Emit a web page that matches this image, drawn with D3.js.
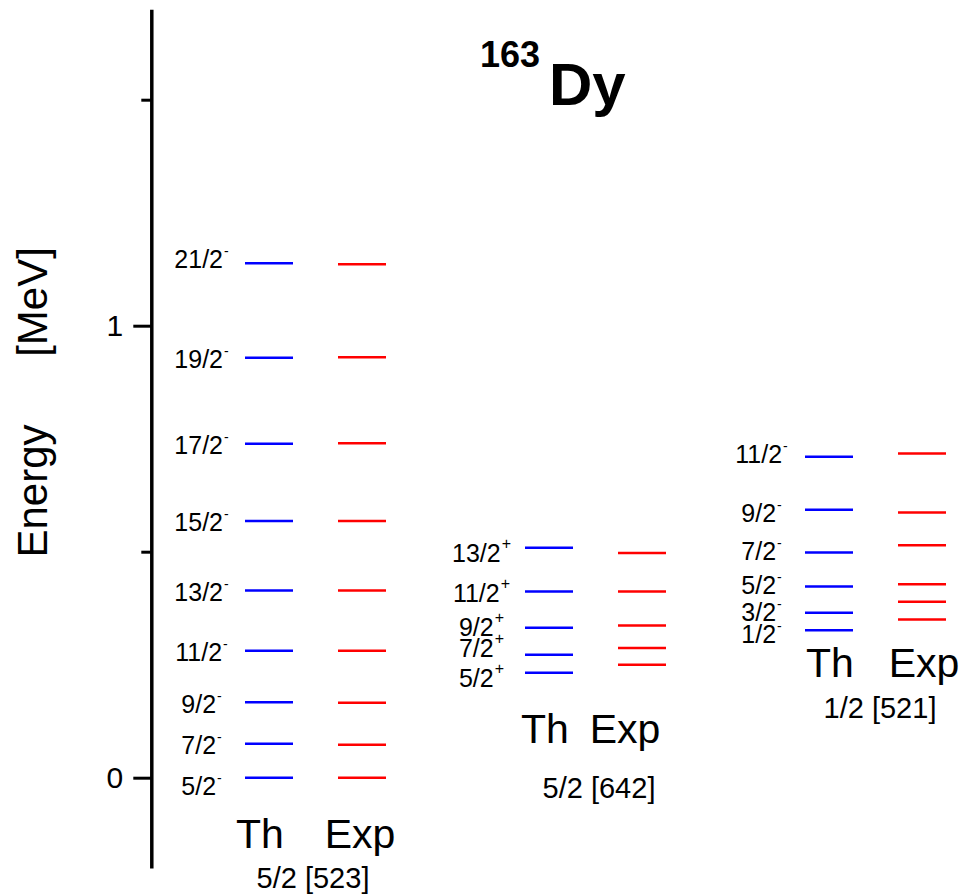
<!DOCTYPE html>
<html>
<head>
<meta charset="utf-8">
<script src="https://cdn.jsdelivr.net/npm/d3@7"></script>
<style>
  html, body { margin: 0; padding: 0; background: #fff; }
  svg { display: block; font-family: "Liberation Sans", Arial, sans-serif; }
</style>
</head>
<body>
<div id="chart"></div>
<script>
// Level energies in MeV.
const bandNames = ['5/2 [523]', '5/2 [642]', '1/2 [521]'];
const bandParity = ['-', '+', '-'];

const spins523 = ['5/2', '7/2', '9/2', '11/2', '13/2', '15/2', '17/2', '19/2', '21/2'];
const th523 = [0.000, 0.075, 0.167, 0.281, 0.414, 0.568, 0.739, 0.929, 1.138];
const exp523 = [0.000, 0.073, 0.166, 0.281, 0.414, 0.568, 0.740, 0.930, 1.136];

const spins642 = ['5/2', '7/2', '9/2', '11/2', '13/2'];
const th642 = [0.232, 0.272, 0.332, 0.412, 0.509];
const exp642 = [0.250, 0.287, 0.337, 0.412, 0.497];

const spins521 = ['1/2', '3/2', '5/2', '7/2', '9/2', '11/2'];
const th521 = [0.326, 0.365, 0.423, 0.498, 0.593, 0.710];
const exp521 = [0.350, 0.389, 0.428, 0.514, 0.587, 0.717];

const yTicksMajor = [0, 1];
const yTicksMinor = [0.5, 1.5];

const bands = [
  { spins: spins523, th: th523, exp: exp523 },
  { spins: spins642, th: th642, exp: exp642 },
  { spins: spins521, th: th521, exp: exp521 },
];

// layout only: label placements per band (pixels)
const bandLayout = [
  { th: [260, 848], exp: [360, 848], cap: [313, 888], nudge: { '5/2': 7, '21/2': -6 } },
  { th: [545, 743], exp: [625, 743], cap: [599, 798], nudge: { '5/2': 3.5, '7/2': -8, '9/2': -2, '13/2': 3.5 } },
  { th: [830, 677], exp: [924, 677], cap: [880, 718], nudge: { '1/2': 2, '3/2': -2.5, '5/2': -3.5, '7/2': -3.5, '9/2': 2, '11/2': -4 } },
];

const width = 964, height = 895;
const axisX = 151.3;
const lineW = 48;
const expOffset = 93;

const svg = d3.select('#chart').append('svg')
  .attr('width', width)
  .attr('height', height)
  .attr('viewBox', [0, 0, width, height]);

svg.append('rect').attr('width', width).attr('height', height).attr('fill', '#fff');

const y = d3.scaleLinear().domain([-0.2, 1.7]).range([868.1, 9.3]);
const xBand = d3.scaleLinear().domain([0, 1]).range([245, 525]);

// axis: long ticks with numbers at 0 and 1, short ones in between
const major = svg.append('g')
  .attr('transform', `translate(${axisX},0)`)
  .call(d3.axisLeft(y).tickValues(yTicksMajor).tickSize(18).tickSizeOuter(0).tickPadding(10).tickFormat(d3.format('d')));
major.select('.domain').attr('stroke-width', 3.5);
major.selectAll('.tick line').attr('stroke-width', 3);
major.selectAll('.tick text')
  .attr('font-size', 30)
  .attr('font-family', '"Liberation Sans", Arial, sans-serif')
  .attr('fill', '#000');

const minor = svg.append('g')
  .attr('transform', `translate(${axisX},0)`)
  .call(d3.axisLeft(y).tickValues(yTicksMinor).tickSize(10).tickSizeOuter(0).tickFormat(''));
minor.select('.domain').remove();
minor.selectAll('.tick line').attr('stroke-width', 3);

// axis title
svg.append('text')
  .attr('transform', 'translate(47,491) rotate(-90)')
  .attr('text-anchor', 'middle')
  .attr('font-size', 42)
  .text('Energy');
svg.append('text')
  .attr('transform', 'translate(47,302) rotate(-90)')
  .attr('text-anchor', 'middle')
  .attr('font-size', 42)
  .text('[MeV]');

// nucleus title
const title = svg.append('text').attr('font-weight', 'bold');
title.append('tspan').attr('x', 480).attr('y', 67).attr('font-size', 36).text('163');
title.append('tspan').attr('x', 549).attr('y', 105).attr('font-size', 60).text('Dy');

bands.forEach((b, i) => {
  const x0 = xBand(i);
  const lay = bandLayout[i];
  const g = svg.append('g');

  g.selectAll('line.th')
    .data(b.th)
    .join('line')
    .attr('class', 'th')
    .attr('x1', x0).attr('x2', x0 + lineW)
    .attr('y1', d => y(d)).attr('y2', d => y(d))
    .attr('stroke', '#0000ff')
    .attr('stroke-width', 2.5);

  g.selectAll('line.exp')
    .data(b.exp)
    .join('line')
    .attr('class', 'exp')
    .attr('x1', x0 + expOffset).attr('x2', x0 + expOffset + lineW)
    .attr('y1', d => y(d)).attr('y2', d => y(d))
    .attr('stroke', '#ff0000')
    .attr('stroke-width', 2.5);

  const lbl = g.selectAll('text.spin')
    .data(b.spins)
    .join('text')
    .attr('class', 'spin')
    .attr('text-anchor', 'middle')
    .attr('x', x0 - 43.5)
    .attr('y', (s, j) => y(b.th[j]) + 10.5 + (lay.nudge[s] || 0))
    .attr('font-size', 25);
  lbl.append('tspan').text(s => s);
  lbl.append('tspan')
    .attr('font-size', bandParity[i] === '+' ? 16 : 14)
    .attr('dy', bandParity[i] === '+' ? -13 : -12)
    .attr('dx', 1)
    .text(bandParity[i]);

  g.append('text').attr('x', lay.th[0]).attr('y', lay.th[1])
    .attr('text-anchor', 'middle').attr('font-size', 41).text('Th');
  g.append('text').attr('x', lay.exp[0]).attr('y', lay.exp[1])
    .attr('text-anchor', 'middle').attr('font-size', 41).text('Exp');
  g.append('text').attr('x', lay.cap[0]).attr('y', lay.cap[1])
    .attr('text-anchor', 'middle').attr('font-size', 29).text(bandNames[i]);
});
</script>
</body>
</html>
